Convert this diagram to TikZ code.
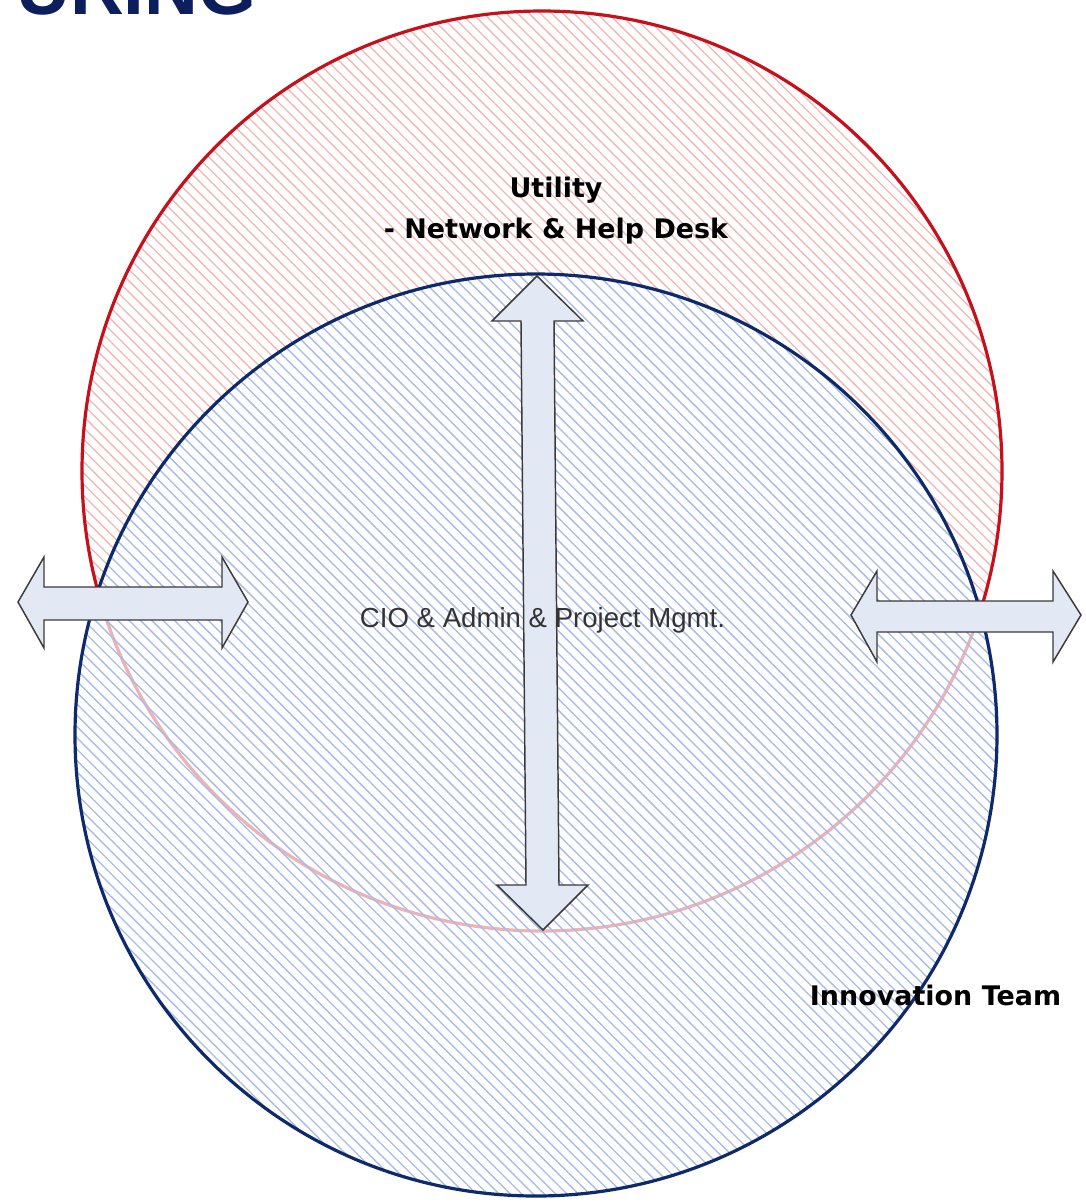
\documentclass[tikz,border=0pt]{standalone}
\usepackage{fontspec}
\usetikzlibrary{patterns.meta}
\newfontfamily\dvfont{DejaVu Sans}
\newfontfamily\libfont{Liberation Sans}
\definecolor{redline}{HTML}{C4111C}
\definecolor{blueline}{HTML}{0E2A6B}
\definecolor{redhatch}{HTML}{F0B6B6}
\definecolor{bluehatch}{HTML}{A8BCE8}
\definecolor{arrowfill}{HTML}{E3E9F4}
\definecolor{arrowline}{HTML}{3A3A3A}
\definecolor{titlenavy}{HTML}{0C1F5C}
\tikzset{
  hatchred/.style={pattern={Lines[angle=-45,distance=6pt,line width=1pt]},pattern color=redhatch},
  hatchblue/.style={pattern={Lines[angle=-45,distance=6pt,line width=1pt]},pattern color=bluehatch},
  blockarrow/.style={fill=arrowfill,draw=arrowline,line width=1.1pt,line join=miter},
  boldlabel/.style={font=\dvfont\bfseries\fontsize{20.2}{24}\selectfont,text=black,inner sep=0pt,anchor=base},
}
\begin{document}
\begin{tikzpicture}[x=0.75pt,y=-0.75pt]
\useasboundingbox (0,0) rectangle (1086,1204);
\clip (0,0) rectangle (1086,1204);
% cropped title
\node[anchor=base west,inner sep=0pt,text=titlenavy,font=\libfont\bfseries\fontsize{55.9}{60}\selectfont] (title) at (16,14) {URING};
% red circle
\path[hatchred] (542,471) circle (460);
\draw[redline,line width=2.4pt] (542,471) circle (460);
% blue circle
\fill[white,opacity=0.68] (536,735) circle (461);
\path[hatchblue] (536,735) circle (461);
\draw[blueline,line width=2.4pt] (536,735) circle (461);
% vertical double arrow
\draw[blockarrow] (537,276) -- (583,321) -- (554,321) -- (559,885) -- (588,885) -- (543,930)
  -- (497,885) -- (526,885) -- (521,321) -- (492,321) -- cycle;
% left double arrow
\draw[blockarrow] (18,602) -- (44,557) -- (44,587) -- (222,587) -- (222,557) -- (248,602)
  -- (222,648) -- (222,620) -- (44,620) -- (44,648) -- cycle;
% right double arrow
\draw[blockarrow] (851,615) -- (877,571) -- (877,601) -- (1053,601) -- (1053,571) -- (1081,615)
  -- (1053,662) -- (1053,632) -- (877,632) -- (877,662) -- cycle;
% labels
\node[boldlabel] (util) at (556,197) {Utility};
\node[boldlabel] (net) at (556,238) {- Network \& Help Desk};
\node[boldlabel] (innov) at (935.5,1005) {Innovation Team};
\node[anchor=base,inner sep=0pt,text=black!80,font=\libfont\fontsize{20.7}{24}\selectfont] (cio) at (542.5,627) {CIO \& Admin \& Project Mgmt.};
\end{tikzpicture}
\end{document}
